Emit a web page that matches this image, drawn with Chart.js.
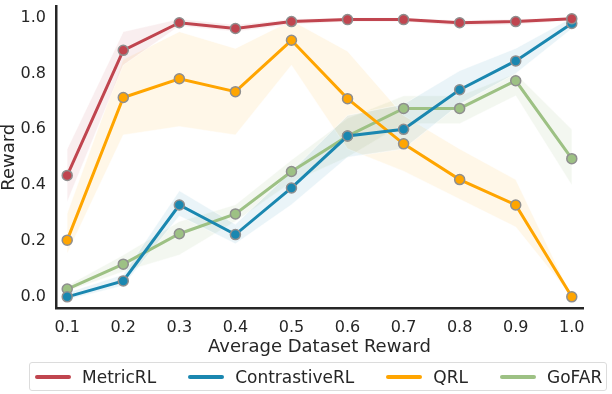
<!DOCTYPE html>
<html>
<head>
<meta charset="utf-8">
<script src="https://cdn.jsdelivr.net/npm/chart.js@4/dist/chart.umd.min.js"></script>
<style>
  html, body { margin: 0; padding: 0; background: #fff; }
  #wrap { position: relative; width: 612px; height: 394px; }
  #legend {
    position: absolute; left: 29px; top: 362px; width: 578px; height: 29px;
    border: 1px solid #dcdcdc; border-radius: 3px; box-sizing: border-box;
    display: flex; align-items: center; padding-left: 5px;
    font-family: "DejaVu Sans", sans-serif; font-size: 17px; color: #262626;
  }
  #legend .item { display: flex; align-items: center; margin-right: 32px; }
  #legend .swatch { width: 36px; height: 4px; border-radius: 2px; margin-right: 11px; }
</style>
</head>
<body>
<div id="wrap">
  <canvas id="rewardChart" width="612" height="394"></canvas>
  <div id="legend"></div>
</div>
<script>
// dataset reward levels on the x axis
const xValues = [0.1, 0.2, 0.3, 0.4, 0.5, 0.6, 0.7, 0.8, 0.9, 1.0];
const xTicks = [0.1, 0.2, 0.3, 0.4, 0.5, 0.6, 0.7, 0.8, 0.9, 1.0];
const yTicks = [0.0, 0.2, 0.4, 0.6, 0.8, 1.0];

const metricRL = [0.435, 0.883, 0.982, 0.961, 0.986, 0.993, 0.993, 0.982, 0.986, 0.996];
const metricRLLow = [0.34, 0.83, 0.97, 0.95, 0.975, 0.985, 0.985, 0.97, 0.975, 0.99];
const metricRLHigh = [0.53, 0.95, 0.995, 0.975, 0.995, 1.0, 1.0, 0.99, 0.995, 1.0];

const contrastiveRL = [0.0, 0.057, 0.329, 0.223, 0.39, 0.576, 0.60, 0.742, 0.845, 0.979];
const contrastiveRLLow = [-0.01, 0.04, 0.29, 0.19, 0.33, 0.50, 0.53, 0.69, 0.80, 0.96];
const contrastiveRLHigh = [0.015, 0.08, 0.38, 0.26, 0.45, 0.65, 0.69, 0.81, 0.89, 1.0];

const qrl = [0.203, 0.714, 0.781, 0.735, 0.919, 0.71, 0.548, 0.42, 0.329, 0.0];
const qrlLow = [0.155, 0.58, 0.61, 0.58, 0.83, 0.53, 0.45, 0.35, 0.25, 0.0];
const qrlHigh = [0.30, 0.85, 0.95, 0.89, 0.99, 0.88, 0.65, 0.53, 0.42, 0.0];

const gofar = [0.028, 0.117, 0.226, 0.297, 0.449, 0.576, 0.675, 0.675, 0.774, 0.495];
const gofarLow = [0.02, 0.09, 0.15, 0.27, 0.41, 0.50, 0.62, 0.62, 0.72, 0.40];
const gofarHigh = [0.04, 0.15, 0.27, 0.33, 0.49, 0.64, 0.72, 0.72, 0.80, 0.60];

const seriesNames = ['MetricRL', 'ContrastiveRL', 'QRL', 'GoFAR'];
const seriesColors = ['#c0454f', '#1a87b0', '#ffa500', '#9dc184'];
const bandColors = ['rgba(192,69,79,0.09)', 'rgba(26,135,176,0.09)', 'rgba(255,165,0,0.09)', 'rgba(157,193,132,0.12)'];

const toPoints = arr => arr.map((v, i) => ({ x: xValues[i], y: v }));

const means = [metricRL, contrastiveRL, qrl, gofar];
const lows = [metricRLLow, contrastiveRLLow, qrlLow, gofarLow];
const highs = [metricRLHigh, contrastiveRLHigh, qrlHigh, gofarHigh];

const datasets = [];
means.forEach((m, i) => {
  datasets.push({
    label: seriesNames[i],
    data: toPoints(m),
    borderColor: seriesColors[i],
    backgroundColor: seriesColors[i],
    borderWidth: 3,
    pointRadius: 5,
    pointBackgroundColor: seriesColors[i],
    pointBorderColor: '#8f8f8f',
    pointBorderWidth: 1.5,
    fill: false,
    order: 1
  });
});
// shaded bands: upper edge, then lower edge filled up to it
means.forEach((m, i) => {
  datasets.push({
    label: 'band',
    data: toPoints(highs[i]),
    borderColor: 'rgba(255,255,255,0.6)',
    borderWidth: 0.8,
    pointRadius: 0,
    fill: false,
    order: 5
  });
  datasets.push({
    label: 'band',
    data: toPoints(lows[i]),
    borderColor: 'rgba(255,255,255,0.6)',
    borderWidth: 0.8,
    pointRadius: 0,
    backgroundColor: bandColors[i],
    fill: '-1',
    order: 5
  });
});

// html legend in a framed box
const legendEl = document.getElementById('legend');
seriesNames.forEach((name, i) => {
  const item = document.createElement('div');
  item.className = 'item';
  item.innerHTML = '<span class="swatch" style="background:' + seriesColors[i] + '"></span><span>' + name + '</span>';
  legendEl.appendChild(item);
});

Chart.defaults.font.family = '"DejaVu Sans", sans-serif';
Chart.defaults.color = '#262626';

new Chart(document.getElementById('rewardChart'), {
  type: 'line',
  data: { datasets },
  options: {
    responsive: false,
    animation: false,
    layout: { padding: { left: 0, right: 29, top: 3, bottom: 36 } },
    plugins: {
      tooltip: { enabled: false },
      legend: { display: false }
    },
    scales: {
      x: {
        type: 'linear',
        min: 0.08,
        max: 1.02,
        afterBuildTicks: s => { s.ticks = xTicks.map(v => ({ value: v })); },
        afterFit: s => { s.height = 50; },
        ticks: { callback: v => v.toFixed(1), font: { size: 16 }, padding: 10, maxRotation: 0 },
        grid: { display: true, color: 'transparent', drawTicks: false },
        border: { display: true, color: '#262626', width: 2.5 },
        title: { display: true, text: 'Average Dataset Reward', font: { size: 18 }, padding: { top: 0, bottom: 0 } }
      },
      y: {
        min: -0.04,
        max: 1.04,
        afterBuildTicks: s => { s.ticks = yTicks.map(v => ({ value: v })); },
        afterFit: s => { s.width = 56; s.paddingTop = 0; s.paddingBottom = 0; },
        ticks: { callback: v => v.toFixed(1), font: { size: 16 }, padding: 10 },
        grid: { display: true, color: 'transparent', drawTicks: false },
        border: { display: true, color: '#262626', width: 2.5 },
        title: { display: true, text: 'Reward', font: { size: 18, lineHeight: 1 }, padding: { top: 0, bottom: 0 } }
      }
    }
  }
});
</script>
</body>
</html>
